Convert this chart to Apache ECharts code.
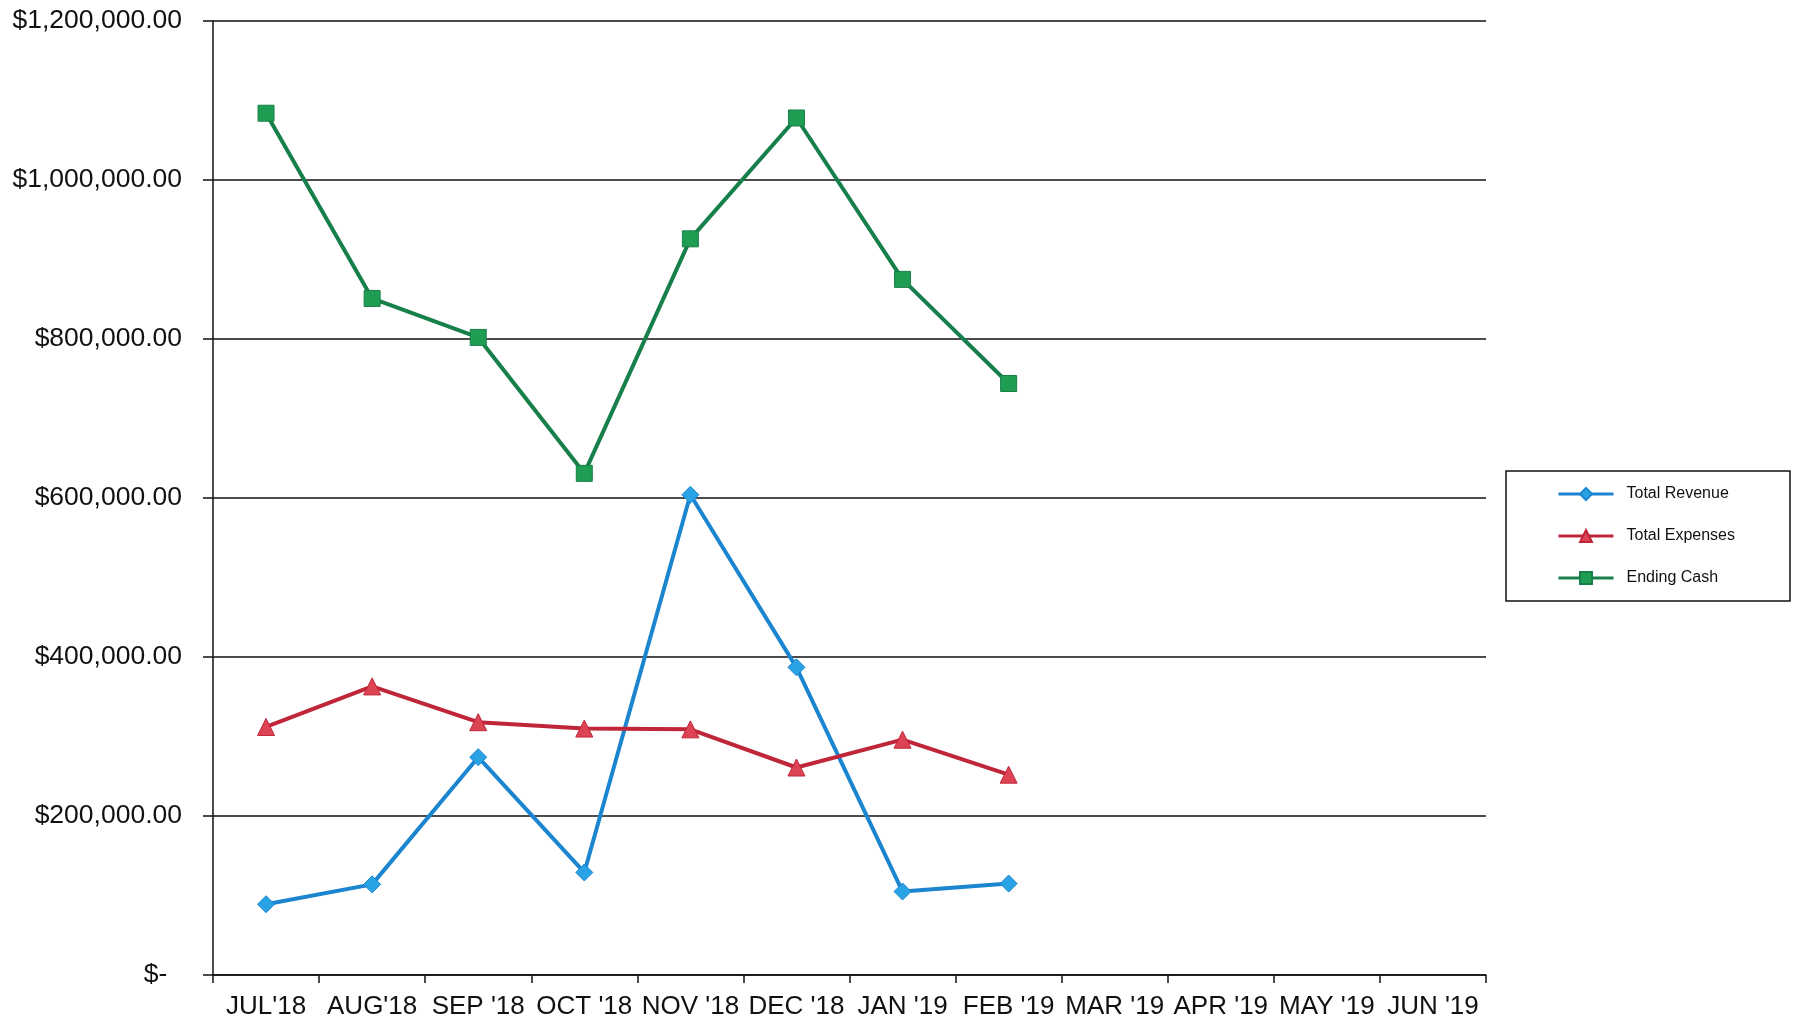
<!DOCTYPE html>
<html>
<head>
<meta charset="utf-8">
<script src="https://cdn.jsdelivr.net/npm/echarts@6/dist/echarts.min.js"></script>
<style>
  html, body { margin: 0; padding: 0; background: #fff; }
  #chart { width: 1799px; height: 1034px; }
</style>
</head>
<body>
<div id="chart"></div>
<script>
// Fiscal-year months
const months = ["JUL'18", "AUG'18", "SEP '18", "OCT '18", "NOV '18", "DEC '18",
                "JAN '19", "FEB '19", "MAR '19", "APR '19", "MAY '19", "JUN '19"];

// Monthly figures (USD); months not yet reported are left empty
const totalRevenue  = [89000, 114000, 274000, 129000, 604000, 387000, 105000, 115000, null, null, null, null];
const totalExpenses = [312000, 363000, 318000, 310000, 309000, 261000, 296000, 252000, null, null, null, null];
const endingCash    = [1084000, 851000, 802000, 631000, 926000, 1078000, 875000, 744000, null, null, null, null];

const yMax = 1200000;
const yStep = 200000;

// Accounting-style currency labels, with a dash for zero
function money(v) {
  if (v === 0) return '$-  ';
  return '$' + v.toLocaleString('en-US', { minimumFractionDigits: 2, maximumFractionDigits: 2 });
}

const chart = echarts.init(document.getElementById('chart'));

function lineSeries(name, data, color, markerColor, symbol, size) {
  return {
    name: name,
    type: 'line',
    data: data,
    symbol: symbol,
    symbolSize: size,
    showAllSymbol: true,
    connectNulls: false,
    lineStyle: { color: color, width: 4 },
    itemStyle: { color: markerColor, borderColor: color, borderWidth: 1 },
    emphasis: { disabled: true }
  };
}

chart.setOption({
  animation: false,
  textStyle: { fontFamily: 'Liberation Sans, Arial, sans-serif' },
  grid: { left: 213, right: 313, top: 21, bottom: 59 },
  legend: {
    orient: 'vertical',
    left: 1506,
    top: 471,
    padding: [15, 55, 15, 51],
    itemGap: 26,
    itemWidth: 55,
    itemHeight: 15,
    borderColor: '#111',
    borderWidth: 1.5,
    lineStyle: { width: 3 },
    textStyle: { fontSize: 16, color: '#111', padding: [0, 0, 0, 8] },
    data: ['Total Revenue', 'Total Expenses', 'Ending Cash']
  },
  xAxis: {
    type: 'category',
    data: months,
    boundaryGap: true,
    axisLine: { lineStyle: { color: '#111', width: 1.5 } },
    axisTick: { show: true, alignWithLabel: false, length: 8, lineStyle: { color: '#111', width: 1.5 } },
    axisLabel: { color: '#111', fontSize: 26, margin: 19, interval: 0 },
    splitLine: { show: false }
  },
  yAxis: {
    type: 'value',
    min: 0,
    max: yMax,
    interval: yStep,
    axisLine: { show: true, lineStyle: { color: '#111', width: 1.5 } },
    axisTick: { show: true, length: 10, lineStyle: { color: '#111', width: 1.5 } },
    axisLabel: { color: '#111', fontSize: 26.5, margin: 31, formatter: money },
    splitLine: { show: true, lineStyle: { color: '#111', width: 1.5 } }
  },
  series: [
    lineSeries('Total Revenue', totalRevenue, '#1b86cf', '#2aa3e6', 'diamond', 17),
    lineSeries('Total Expenses', totalExpenses, '#c0263a', '#dc4454', 'triangle', 17),
    lineSeries('Ending Cash', endingCash, '#17804a', '#1f9d52', 'rect', 16)
  ]
});
</script>
</body>
</html>
